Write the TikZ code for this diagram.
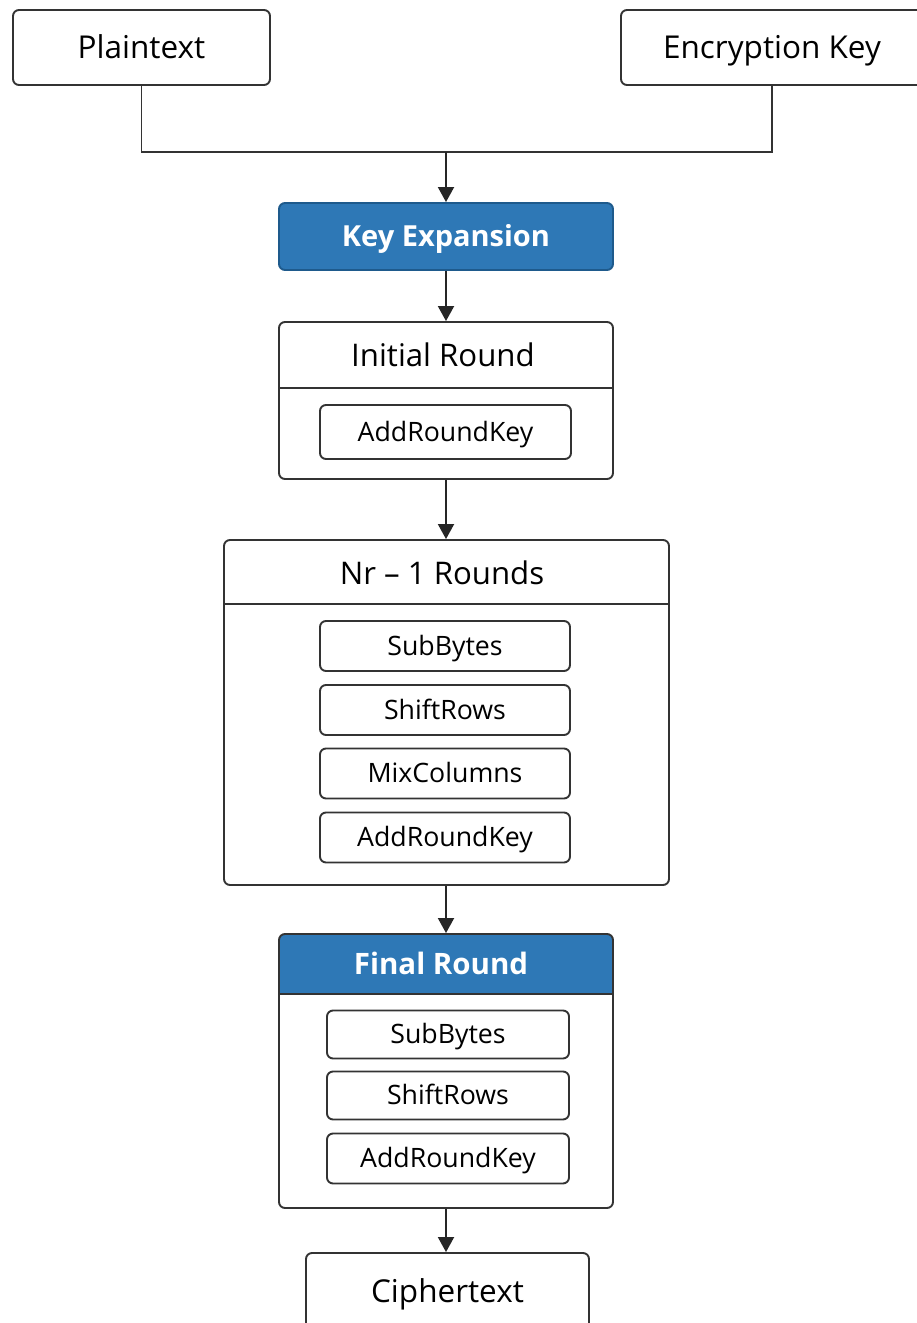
\documentclass[tikz,border=0pt]{standalone}
\usepackage{fontspec}
\setmainfont{Open Sans}
\usetikzlibrary{arrows.meta}
\definecolor{aesblue}{HTML}{2E78B6}
\definecolor{aesedge}{HTML}{1E5A8C}
\begin{document}
\begin{tikzpicture}[x=1pt,y=-1pt]
\tikzset{
  box/.style={draw=black!80, line width=1.9pt, rounded corners=6pt, fill=white, inner sep=0pt},
  io/.style={box, minimum height=75pt, text height=28.7pt, text depth=6.3pt, font=\fontsize{31.5}{36}\selectfont},
  stage/.style={box, fill=none},
  opbox/.style={box, minimum height=50pt, text height=24.2pt, text depth=5.3pt, font=\fontsize{26.7}{31}\selectfont},
  ttl/.style={inner sep=0pt, text height=28.5pt, text depth=6.2pt, font=\fontsize{31.2}{36}\selectfont},
  hot/.style={box, draw=aesedge, fill=aesblue, text=white, text height=25.9pt, text depth=5.8pt, font=\fontsize{29}{34}\selectfont\bfseries},
  sep/.style={draw=black!80, line width=1.9pt},
  flow/.style={line width=1.9pt, draw=black!85, -{Triangle[width=16pt,length=15pt]}},
}
\useasboundingbox (0,0) rectangle (917,1323);
\clip (0,0) rectangle (917,1323);

%% Inputs
\node[io, minimum width=257pt] (plain) at (141.5,47.5) {Plaintext};
\node[io, minimum width=302pt] (key) at (772,47.5) {Encryption Key};
\coordinate (join) at (446,152);

%% Key expansion
\node[hot, minimum width=334pt, minimum height=67pt] (keyexp) at (446,236.5) {Key Expansion};

%% Initial round
\node[stage, minimum width=334pt, minimum height=157pt] (init) at (446,400.5) {};
\node[ttl] (inittl) at (443,355) {Initial Round};
\draw[sep] (init.west |- 0,388) -- (init.east |- 0,388);
\node[opbox, minimum width=251pt, minimum height=54pt] (iark) at (445.5,432) {AddRoundKey};

%% Main rounds
\node[stage, minimum width=445pt, minimum height=345pt] (rnds) at (446.5,712.5) {};
\node[ttl] (rndttl) at (442,573) {Nr – 1 Rounds};
\draw[sep] (rnds.west |- 0,604) -- (rnds.east |- 0,604);
\node[opbox, minimum width=250pt] (rsub) at (445,646) {SubBytes};
\node[opbox, minimum width=250pt] (rshift) at (445,710) {ShiftRows};
\node[opbox, minimum width=250pt] (rmix) at (445,773.5) {MixColumns};
\node[opbox, minimum width=250pt] (rark) at (445,837.5) {AddRoundKey};

%% Final round
\fill[aesblue] (279,994) [rounded corners=6pt] -- (279,934) -- (613,934) [sharp corners] -- (613,994) -- cycle;
\node[stage, minimum width=334pt, minimum height=274pt] (fin) at (446,1071) {};
\node[ttl, text=white, text height=26.2pt, text depth=5.9pt, font=\fontsize{29.5}{34}\selectfont\bfseries] (finttl) at (441,964) {Final Round};
\draw[sep] (fin.west |- 0,994) -- (fin.east |- 0,994);
\node[opbox, minimum width=242pt, minimum height=48pt] (fsub) at (448,1034.5) {SubBytes};
\node[opbox, minimum width=242pt, minimum height=48pt] (fshift) at (448,1095.5) {ShiftRows};
\node[opbox, minimum width=242pt, minimum height=50pt] (fark) at (448,1158.5) {AddRoundKey};

%% Output
\node[io, minimum width=283pt, minimum height=77pt] (ct) at (447.5,1291.5) {Ciphertext};

%% Connectors
\draw[sep] (plain.south) |- (join) -| (key.south);
\draw[flow] (join) -- (keyexp.north);
\draw[flow] (keyexp.south) -- (init.north);
\draw[flow] (init.south) -- (rnds.north -| init.south);
\draw[flow] (rnds.south -| init.south) -- (fin.north);
\draw[flow] (fin.south) -- (ct.north -| fin.south);
\end{tikzpicture}
\end{document}
